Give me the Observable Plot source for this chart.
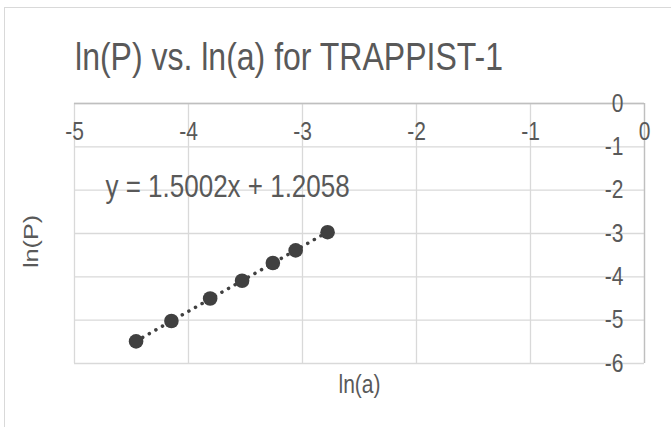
<!DOCTYPE html>
<html><head><meta charset="utf-8">
<script src="https://cdn.jsdelivr.net/npm/d3@7"></script>
<script src="https://cdn.jsdelivr.net/npm/@observablehq/plot@0.6"></script>
<style>
body{margin:0;background:#fff;overflow:hidden;width:671px;height:427px;position:relative;font-family:"Liberation Sans",Arial,sans-serif}
#frame{position:absolute;left:4px;top:7px;width:700px;height:500px;border:1px solid #d9d9d9;box-sizing:border-box}
#title{position:absolute;left:0;width:578px;top:41px;text-align:center;font-size:32px;line-height:32px;color:#595959;white-space:nowrap;transform:scaleY(1.2)}
#chart{position:absolute;left:0;top:80px}
</style></head>
<body>
<div id="frame"></div>
<div id="title">ln(P) vs. ln(a) for TRAPPIST-1</div>
<div id="chart"></div>
<script>
const lnA = [-4.46, -4.15, -3.81, -3.53, -3.26, -3.06, -2.78];
const lnP = [-5.49, -5.02, -4.50, -4.09, -3.68, -3.39, -2.97];
const xTicks = [-5, -4, -3, -2, -1, 0];
const yTicks = [0, -1, -2, -3, -4, -5, -6];
const slope = 1.5002, intercept = 1.2058;
const xLabel = "ln(a)", yLabel = "ln(P)";

const pts = lnA.map((x, i) => ({x, y: lnP[i]}));
const xr = d3.extent(lnA);
const trend = xr.map(x => ({x, y: slope * x + intercept}));
const txt = "#595959";
const font = "'Liberation Sans', Arial, sans-serif";

const chart = Plot.plot({
  width: 671, height: 347,
  marginLeft: 74, marginRight: 27, marginTop: 23, marginBottom: 64,
  x: {domain: [-5, 0], axis: null},
  y: {domain: [-6, 0], axis: null},
  style: {fontFamily: font, background: "transparent", overflow: "visible"},
  marks: [
    Plot.ruleX(xTicks, {stroke: "#d9d9d9", strokeWidth: 1.3}),
    Plot.ruleY(yTicks, {stroke: "#d9d9d9", strokeWidth: 1.3}),
    Plot.ruleY([0], {stroke: "#bfbfbf", strokeWidth: 1.3}),
    Plot.ruleX([0], {stroke: "#bfbfbf", strokeWidth: 1.3}),
    Plot.line(trend, {x: "x", y: "y", stroke: "#404040", strokeWidth: 3.5, strokeDasharray: "0.1 7.5", strokeLinecap: "round"}),
    Plot.dot(pts, {x: "x", y: "y", r: 7.3, fill: "#404040", stroke: "none"}),
    Plot.text(xTicks, {x: d => d, y: () => 0, dy: 28, text: d => `${d}`, fill: txt, fontSize: 21, textAnchor: "middle", lineAnchor: "middle"}),
    Plot.text(yTicks, {x: () => 0, y: d => d, dx: -21, text: d => `${d}`, fill: txt, fontSize: 21, textAnchor: "end", lineAnchor: "middle"}),
    Plot.text([`y = ${slope}x + ${intercept}`], {frameAnchor: "top-left", dx: 31, dy: 84, textAnchor: "start", lineAnchor: "middle", fill: txt, fontSize: 26}),
    Plot.text([xLabel], {frameAnchor: "bottom", dy: 21, textAnchor: "middle", lineAnchor: "middle", fill: txt, fontSize: 21}),
    Plot.text([yLabel], {frameAnchor: "left", dx: -43, dy: 8, rotate: -90, textAnchor: "middle", lineAnchor: "middle", fill: txt, fontSize: 21})
  ]
});
document.getElementById("chart").appendChild(chart);
// the reference glyphs are drawn taller than wide: stretch text vertically
chart.querySelectorAll("text").forEach(t => {
  const tr = t.getAttribute("transform") || "";
  const rotated = /rotate/.test(tr);
  t.setAttribute("transform", tr + (rotated ? " scale(1.2,1)" : " scale(1,1.2)"));
});
</script>
</body></html>
